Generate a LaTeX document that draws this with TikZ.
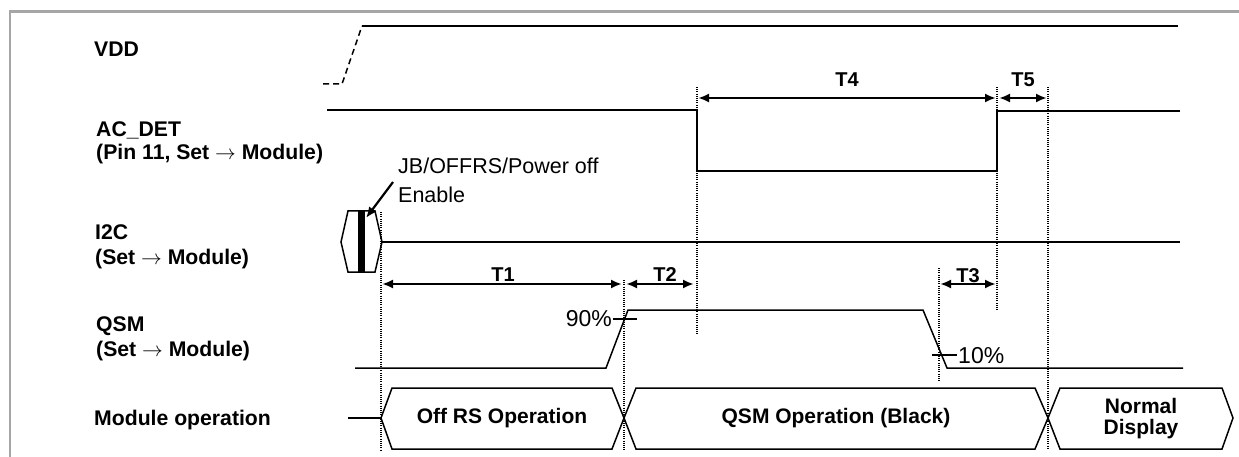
\documentclass[tikz,border=0pt]{standalone}
\usepackage{fontspec}
\setmainfont{Liberation Sans}
\usetikzlibrary{arrows.meta}
\begin{document}
\begin{tikzpicture}[x=1pt,y=-1pt,
  sig/.style={line width=1.5pt, line join=miter},
  dimarrow/.style={line width=2.2pt, {Latex[length=11pt,width=9pt]}-{Latex[length=11pt,width=9pt]}},
  guide/.style={line width=1.1pt, dash pattern=on 1pt off 1.2pt},
  lbl/.style={font=\fontsize{21.2}{24}\selectfont\bfseries, anchor=base west, inner sep=0},
  tlabel/.style={font=\fontsize{20}{22}\selectfont\bfseries, anchor=base, inner sep=0},
  note/.style={font=\fontsize{21.5}{25}\selectfont, inner sep=0},
  pct/.style={font=\fontsize{23}{25}\selectfont, inner sep=0},
  opname/.style={font=\fontsize{21}{24}\selectfont\bfseries, align=center, inner sep=0},
]
\useasboundingbox (0,0) rectangle (1239,457);
% frame
\draw[gray!70, line width=2.5pt] (10,457) -- (10,11.5) -- (1239,11.5);

% signal labels
\node[lbl] (lvdd) at (94,57) {VDD};
\node[lbl] (lac1) at (96,137) {AC\_DET};
\node[lbl] (lac2) at (96,160) {(Pin 11, Set $\rightarrow$ Module)};
\node[lbl] (li2c1) at (95,240) {I2C};
\node[lbl] (li2c2) at (95,264) {(Set $\rightarrow$ Module)};
\node[lbl] (lqsm1) at (96,331) {QSM};
\node[lbl] (lqsm2) at (96,356) {(Set $\rightarrow$ Module)};
\node[lbl] (lmod) at (94,425) {Module operation};

% VDD
\draw[sig, dash pattern=on 6pt off 4pt] (323,84) -- (342,84) -- (362,26);
\draw[sig] (362,26) -- (1178,26);

% AC_DET
\draw[sig] (327,110) -- (697,110) -- (697,171) -- (997,171) -- (997,111) -- (1180,111);

% I2C
\draw[sig] (341,242) -- (348,211) -- (375,211) -- (382,242) -- (375,272) -- (348,272) -- cycle;
\fill (358,211) rectangle (365,272);
\draw[sig] (382,242) -- (1180,242);
\node[note, anchor=base west] (jb1) at (398,174) {JB/OFFRS/Power off};
\node[note, anchor=base west] (jb2) at (398,203) {Enable};
\coordinate (bar) at (366,218);
\draw[line width=2.2pt, -{Latex[length=11pt,width=9pt]}] (393,182) -- (bar);

% QSM
\draw[sig] (355,368) -- (606,368) -- (628,310) -- (923,310) -- (947,368) -- (1183,368);
\draw[sig] (613,319) -- (637,319);
\node[pct, anchor=east] (p90) at (612,319) {90\%};
\draw[sig] (932,355) -- (957,355);
\node[pct, anchor=west] (p10) at (958,356) {10\%};

% Module operation
\draw[sig] (348,418) -- (381,418);
\draw[sig] (381,418) -- (392,388) -- (612,388) -- (624,418) -- (612,449) -- (392,449) -- cycle;
\draw[sig] (624,418) -- (636,388) -- (1035,388) -- (1048,418) -- (1035,449) -- (636,449) -- cycle;
\draw[sig] (1048,418) -- (1060,388) -- (1222,388) -- (1233,418) -- (1222,449) -- (1060,449) -- cycle;
\node[opname] (op1) at (502,418) {Off RS Operation};
\node[opname] (op2) at (836,418) {QSM Operation (Black)};
\node[opname] (op3) at (1141,419) {Normal\\[-3pt]Display};

% guide lines
\draw[guide] (381,212) -- (381,450);
\draw[guide] (624,280) -- (624,450);
\draw[guide] (697,87) -- (697,334);
\draw[guide] (939,268) -- (939,382);
\draw[guide] (997,87) -- (997,311);
\draw[guide] (1048,87) -- (1048,450);

% timing arrows
\coordinate (t1a) at (382,284); \coordinate (t1b) at (622,284);
\coordinate (t2a) at (626,284); \coordinate (t2b) at (694,284);
\coordinate (t3a) at (940,284); \coordinate (t3b) at (996,284);
\coordinate (t4a) at (698,98);  \coordinate (t4b) at (996,98);
\coordinate (t5a) at (999,98);  \coordinate (t5b) at (1047,98);
\draw[dimarrow] (t1a) -- (t1b);
\draw[dimarrow] (t2a) -- (t2b);
\draw[dimarrow] (t3a) -- (t3b);
\draw[dimarrow] (t4a) -- (t4b);
\draw[dimarrow] (t5a) -- (t5b);
\node[tlabel] (T1) at (503,281) {T1};
\node[tlabel] (T2) at (665,281) {T2};
\node[tlabel] (T3) at (968,282) {T3};
\node[tlabel] (T4) at (847,87) {T4};
\node[tlabel] (T5) at (1023,87) {T5};
\end{tikzpicture}
\end{document}
